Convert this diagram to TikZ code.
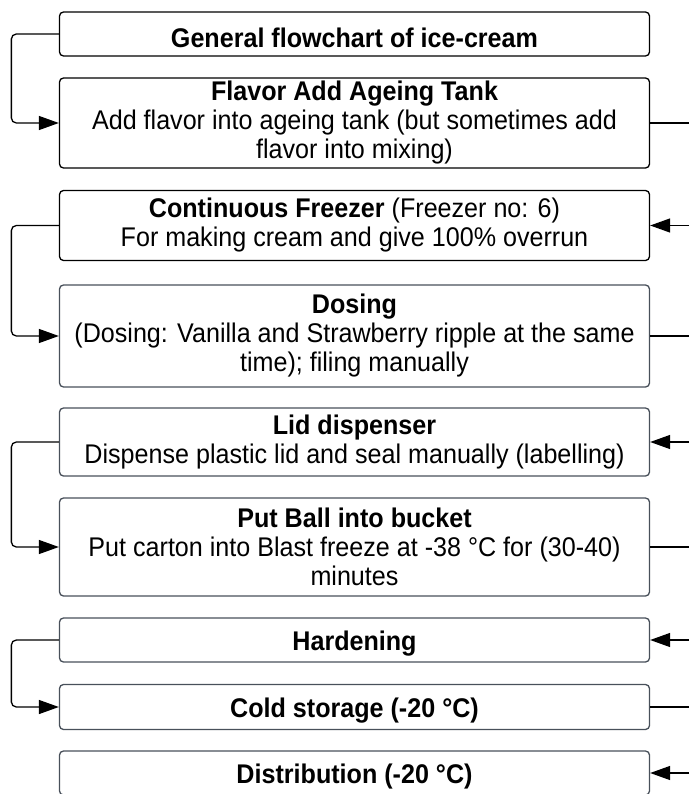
\documentclass[tikz,border=0pt]{standalone}
\usepackage{fontspec}
\setmainfont[FakeStretch=0.93]{Liberation Sans}
\usetikzlibrary{arrows.meta}
\definecolor{boxgray}{RGB}{72,80,90}

\begin{document}
\begin{tikzpicture}[x=1pt,y=-1pt,
  stepbox/.style={draw=black,rounded corners=4pt,line width=1.3pt,minimum width=590pt,inner sep=0pt,align=center,font=\fontsize{27}{29}\selectfont,execute at begin node={\rule{0pt}{27pt}}},
  graybox/.style={stepbox,draw=boxgray},
  link/.style={draw=black,line width=1.3pt,rounded corners=5pt},
  linkarrow/.style={link,-{Triangle[length=20pt,width=14pt]}}]
 \useasboundingbox (0,0) rectangle (689,794);
 \node[stepbox,minimum height=44pt] (gen) at (354.5,34) {\textbf{General flowchart of ice-cream}};
 \node[stepbox,minimum height=90pt] (flav) at (354.5,123) {\textbf{Flavor Add Ageing Tank}\\Add flavor into ageing tank (but sometimes add\\flavor into mixing)};
 \node[stepbox,minimum height=70pt] (frz) at (354.5,225.5) {\textbf{Continuous Freezer} (Freezer no: 6)\\For making cream and give 100\% overrun};
 \node[graybox,minimum height=102pt] (dos) at (354.5,336) {\textbf{Dosing}\\(Dosing: Vanilla and Strawberry ripple at the same\\time); filing manually};
 \node[graybox,minimum height=68pt] (lid) at (354.5,442) {\textbf{Lid dispenser}\\Dispense plastic lid and seal manually (labelling)};
 \node[graybox,minimum height=98pt] (ball) at (354.5,547) {\textbf{Put Ball into bucket}\\Put carton into Blast freeze at -38 °C for (30-40)\\minutes};
 \node[graybox,minimum height=44pt] (hard) at (354.5,640) {\textbf{Hardening}};
 \node[graybox,minimum height=45pt] (cold) at (354.5,707) {\textbf{Cold storage (-20 °C)}};
 \node[graybox,minimum height=44pt] (dist) at (354.5,773) {\textbf{Distribution (-20 °C)}};
 \coordinate (flavout) at (689,123);
 \coordinate (frzin) at (689,225.5);
 \coordinate (dosout) at (689,336);
 \coordinate (lidin) at (689,442);
 \coordinate (ballout) at (689,547);
 \coordinate (hardin) at (689,640);
 \coordinate (coldout) at (689,707);
 \coordinate (distin) at (689,773);
 \draw[linkarrow] (gen.west) -- ++(-47.5,0) |- (flav.west);
 \draw[linkarrow] (frz.west) -- ++(-47.5,0) |- (dos.west);
 \draw[linkarrow] (lid.west) -- ++(-47.5,0) |- (ball.west);
 \draw[linkarrow] (hard.west) -- ++(-47.5,0) |- (cold.west);
 \draw[link] (flav.east) -- (flavout);
 \draw[link] (dos.east) -- (dosout);
 \draw[link] (ball.east) -- (ballout);
 \draw[link] (cold.east) -- (coldout);
 \draw[linkarrow] (frzin) -- (frz.east);
 \draw[linkarrow] (lidin) -- (lid.east);
 \draw[linkarrow] (hardin) -- (hard.east);
 \draw[linkarrow] (distin) -- (dist.east);
\end{tikzpicture}
\end{document}
